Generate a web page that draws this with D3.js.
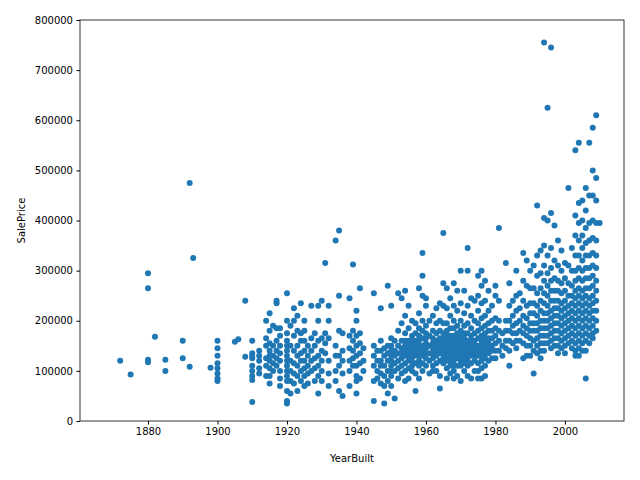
<!DOCTYPE html>
<html><head><meta charset="utf-8">
<script src="https://cdn.jsdelivr.net/npm/d3@7"></script>
<style>body{margin:0;background:#fff}svg text{font-family:"DejaVu Sans";font-size:10px}</style>
</head><body><svg id="c" width="640" height="480"></svg>
<script>
const years=[1872,1875,1880,1882,1885,1890,1892,1893,1898,1900,1905,1906,1908,1910,1912,1914,1915,1916,1917,1918,1920,1921,1922,1923,1924,1925,1926,1927,1928,1929,1930,1931,1932,1934,1935,1936,1938,1939,1940,1941,1942,1945,1946,1947,1948,1949,1950,1951,1952,1953,1954,1955,1956,1957,1958,1959,1960,1961,1962,1963,1964,1965,1966,1967,1968,1969,1970,1971,1972,1973,1974,1975,1976,1977,1978,1979,1980,1981,1982,1983,1984,1985,1986,1987,1988,1989,1990,1991,1992,1993,1994,1995,1996,1997,1998,1999,2000,2001,2002,2003,2004,2005,2006,2007,2008,2009,2010];
const pricesK=[[120],[93],[295,265,122,117],[168],[122,100],[160,125],[475,108],[325],[106],[160,145,130,115,105,95,85,80],[158],[163],[240,128],[160,135,130,125,110,100,90,82,38],[140,130,120,105,95],[200,165,150,125,110,90],[215,180,155,140,130,120,105,90,75],[190,150,130,115,100],[235,240,185,160,140,125,110],[185,170,150,135,120,100,85,70],[255,200,175,160,150,140,130,120,110,100,90,80,60,40,35],[190,150,120,100,80,55],[225,200,170,140,115,95,75],[210,180,150,130,110,90,60],[235,175,160,135,120,100,80],[200,180,160,140,120,105,90,70],[150,130,110,95,75],[230,165,140,120,100],[175,150,125,105,80],[230,200,160,130,110,90,55],[240,165,140,120,100,80],[315,175,155,135],[230,200,165,120,95,70],[360,150,130,100,80],[380,250,180,130,110,60],[175,140,120,95,50],[245,170,145,120,100,70],[312,180,160,140,125,110],[220,200,170,150,130,110,90,80,55],[265,175,155,135,115,85],[145,120,100],[255,150,130,110,80,40],[140,120,100,85],[225,160,140,120,110,95,75],[145,130,110,90,70,35],[270,150,135,120,100,80,55],[230,165,150,140,130,120,110,100,90,70],[160,140,130,115,100,45],[255,180,150,135,120,105,85],[245,195,160,145,135,125,110,95],[260,210,175,160,150,140,130,115,100,80],[230,185,160,150,140,130,120,105,85],[200,170,160,150,140,130,120,110,100],[195,175,160,150,140,130,115,95,60],[265,215,185,170,160,150,140,130,120,110,85],[335,290,250,200,180,165,150,140,130,115,100],[245,230,190,175,165,155,145,135,125,110],[200,170,150,135,120,95],[210,180,165,155,145,135,125,110,100],[225,195,175,160,150,140,130,115,100],[235,200,180,165,155,145,135,120,90,65],[375,275,230,195,175,165,155,145,135,125,115],[265,225,195,180,170,160,150,140,130,120,105,85],[245,210,185,170,160,150,140,130,120,110,95],[275,230,200,185,170,160,150,140,130,120,110,100,85],[260,220,190,175,165,155,145,135,125,110,90],[300,235,200,180,170,160,150,140,130,120,110,80],[260,215,190,175,165,155,145,135,125,115,100],[345,300,230,195,175,160,150,140,130,120,110,90],[245,210,185,170,160,150,140,130,115,85],[240,200,175,160,150,140,130,120,100],[290,250,220,195,180,165,150,140,130,115,100,85],[300,270,235,205,185,170,160,150,140,130,120,105,85],[280,240,210,190,175,165,155,145,135,125,110,90],[260,220,195,180,165,155,145,135,120],[230,200,180,165,150,140,125],[270,250,205,185,170,155,140,125],[385,240,200,180,160,140],[175,150,130],[315,200,180,160,145],[275,230,200,180,160,140,110],[240,210,190,175,155],[300,250,220,195,175,160,145],[255,225,200,180,160],[335,280,240,210,190,175,155,125],[320,270,230,205,185,170,150,130],[300,265,235,215,195,180,165,150,130],[310,265,235,215,195,180,160,140,95],[430,330,290,255,230,210,195,180,165,150,135],[340,295,265,240,220,200,185,170,155,140,125],[755,405,350,310,280,255,235,215,200,185,170,155,140],[625,400,330,295,270,250,230,215,200,185,170,155],[745,415,345,305,280,260,240,220,205,190,175,160,145],[390,320,285,260,240,225,210,195,180,165,150],[360,310,280,260,240,225,210,195,180,165,150,135],[340,300,275,255,235,220,205,190,175,160,145],[315,285,260,240,225,210,195,180,165,150,135],[465,310,275,250,230,215,200,185,170,155],[345,300,270,250,235,220,205,190,175,160,145],[540,410,370,330,300,280,260,245,230,215,200,185,170,155,140,130],[555,435,395,360,330,305,285,265,250,235,220,205,190,175,160,145,130],[440,400,370,345,320,300,280,260,245,230,215,200,185,170,155,140],[465,420,385,355,330,305,285,265,250,235,220,205,190,175,160,140,85],[555,450,395,360,330,305,285,265,245,230,215,200,185,170,155],[585,500,450,400,365,335,310,290,270,250,235,220,205,190,175,165],[610,485,440,395,360,330,305,280,260,240,220,200,180],[395]];
const xTicks=[1880,1900,1920,1940,1960,1980,2000];
const yTicks=[0,100000,200000,300000,400000,500000,600000,700000,800000];
const pts=[];years.forEach((y,i)=>pricesK[i].forEach(p=>pts.push([y,p*1000])));
const L=80,R=624,T=20,B=421;
const svg=d3.select("#c");
const x=d3.scaleLinear().domain([1860.43,2017]).range([L,R]);
const y=d3.scaleLinear().domain([0,800000]).range([B,T]);
svg.append("g").selectAll("circle").data(pts).join("circle")
 .attr("cx",d=>x(d[0])).attr("cy",d=>y(d[1])).attr("r",3).attr("fill","#1f77b4");
svg.append("rect").attr("x",L).attr("y",T).attr("width",R-L).attr("height",B-T).attr("fill","none").attr("stroke","#000").attr("stroke-width",0.8);
const ax=svg.append("g").attr("transform",`translate(0,${B})`).call(d3.axisBottom(x).tickValues(xTicks).tickFormat(d3.format("d")).tickSize(3.5).tickPadding(3.5));
const ay=svg.append("g").attr("transform",`translate(${L},0)`).call(d3.axisLeft(y).tickValues(yTicks).tickFormat(d3.format("d")).tickSize(3.5).tickPadding(3.5));
[ax,ay].forEach(a=>{a.select(".domain").remove();a.selectAll("text").attr("fill","#000").style("font-family","DejaVu Sans").style("font-size","10px");a.selectAll("line").attr("stroke","#000");});
svg.append("text").attr("x",(L+R)/2).attr("y",462).attr("text-anchor","middle").text("YearBuilt");
svg.append("text").attr("transform",`translate(25,${(T+B)/2}) rotate(-90)`).attr("text-anchor","middle").text("SalePrice");
</script></body></html>
